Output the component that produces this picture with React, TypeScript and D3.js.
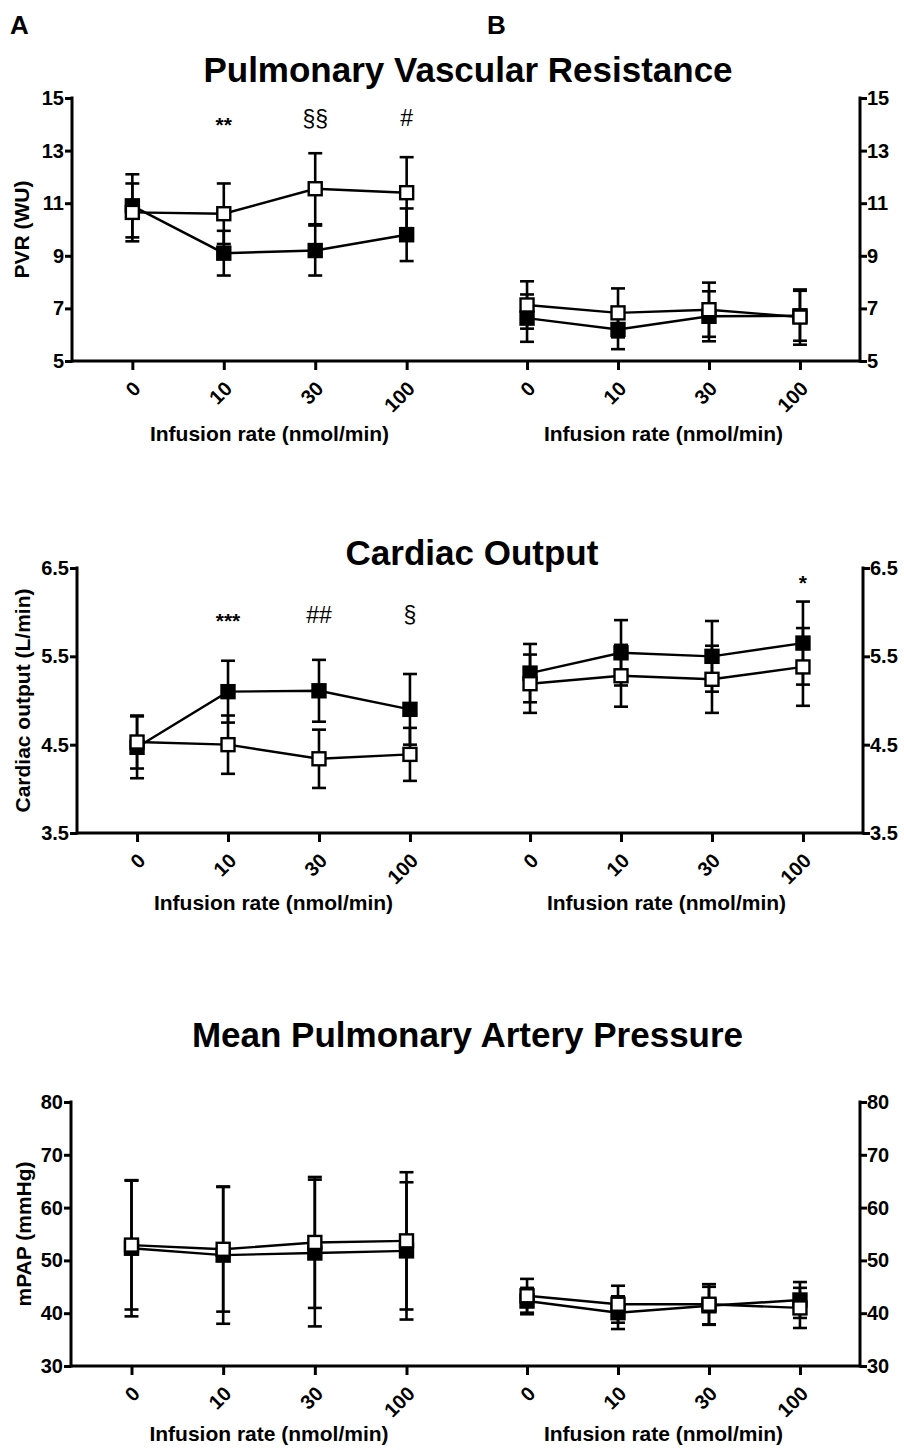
import React, { useEffect, useRef } from 'react';
import * as d3 from 'd3';

// infusion rates (nmol/min)
const rates = ['0', '10', '30', '100'];

// Pulmonary vascular resistance (WU)
const pvrTicks = [5, 7, 9, 11, 13, 15];
const pvrAFilled = [10.9, 9.1, 9.2, 9.8];
const pvrAFilledSd = [1.2, 0.85, 0.95, 1.0];
const pvrAOpen = [10.65, 10.6, 11.55, 11.4];
const pvrAOpenSd = [1.1, 1.15, 1.35, 1.35];
const pvrBFilled = [6.63, 6.2, 6.7, 6.72];
const pvrBFilledSd = [0.9, 0.75, 0.95, 0.95];
const pvrBOpen = [7.13, 6.83, 6.95, 6.67];
const pvrBOpenSd = [0.9, 0.93, 1.03, 1.05];

// Cardiac output (L/min)
const coTicks = [3.5, 4.5, 5.5, 6.5];
const coAFilled = [4.47, 5.1, 5.11, 4.9];
const coAFilledSd = [0.35, 0.35, 0.35, 0.4];
const coAOpen = [4.53, 4.5, 4.34, 4.39];
const coAOpenSd = [0.3, 0.33, 0.33, 0.3];
const coBFilled = [5.31, 5.54, 5.5, 5.65];
const coBFilledSd = [0.33, 0.37, 0.4, 0.47];
const coBOpen = [5.19, 5.28, 5.24, 5.38];
const coBOpenSd = [0.33, 0.35, 0.38, 0.44];

// Mean pulmonary artery pressure (mmHg)
const papTicks = [30, 40, 50, 60, 70, 80];
const papAFilled = [52.3, 51, 51.4, 51.8];
const papAFilledSd = [12.9, 13, 13.9, 13];
const papAOpen = [52.9, 52.1, 53.4, 53.7];
const papAOpenSd = [12.2, 11.8, 12.4, 13];
const papBFilled = [42.3, 40.1, 41.4, 42.5];
const papBFilledSd = [2.5, 3.1, 3.6, 3.4];
const papBOpen = [43.3, 41.7, 41.7, 41];
const papBOpenSd = [3.2, 3.5, 3.8, 3.8];

// significance marks: [side, rate index, label, level]
const pvrNotes = [['A', 1, '**', 14.2], ['A', 2, '§§', 14.2], ['A', 3, '#', 14.25]];
const coNotes = [['A', 1, '***', 5.97], ['A', 2, '##', 5.97], ['A', 3, '§', 5.97], ['B', 3, '*', 6.4]];
const papNotes = [];

const FONT = '"Liberation Sans", Arial, Helvetica, sans-serif';

const panels = [
  {
    title: 'Pulmonary Vascular Resistance', titleY: 82, ylabel: 'PVR (WU)', ticks: pvrTicks, fmt: d3.format('d'),
    top: 98, bottom: 361, left: 72, right: 860, split: 467, xlabelY: 441, ylabelX: 29,
    A: [pvrAFilled, pvrAFilledSd, pvrAOpen, pvrAOpenSd], B: [pvrBFilled, pvrBFilledSd, pvrBOpen, pvrBOpenSd], notes: pvrNotes,
  },
  {
    title: 'Cardiac Output', titleY: 565, ylabel: 'Cardiac output (L/min)', ticks: coTicks, fmt: d3.format('.1f'),
    top: 568, bottom: 833, left: 77, right: 863, split: 470, xlabelY: 910, ylabelX: 30,
    A: [coAFilled, coAFilledSd, coAOpen, coAOpenSd], B: [coBFilled, coBFilledSd, coBOpen, coBOpenSd], notes: coNotes,
  },
  {
    title: 'Mean Pulmonary Artery Pressure', titleY: 1047, ylabel: 'mPAP (mmHg)', ticks: papTicks, fmt: d3.format('d'),
    top: 1102, bottom: 1366, left: 71, right: 860, split: 467, xlabelY: 1441, ylabelX: 31,
    A: [papAFilled, papAFilledSd, papAOpen, papAOpenSd], B: [papBFilled, papBFilledSd, papBOpen, papBOpenSd], notes: papNotes,
  },
];

const App = () => {
  const svgRef = useRef(null);

  useEffect(() => {
    const svg = d3.select(svgRef.current);
    svg.selectAll('*').remove();
    svg.attr('font-family', FONT);

    svg.append('text').attr('x', 10).attr('y', 34).attr('font-size', 26).attr('font-weight', 'bold').text('A');
    svg.append('text').attr('x', 487).attr('y', 34).attr('font-size', 26).attr('font-weight', 'bold').text('B');

    panels.forEach(p => {
      const g = svg.append('g');
      const y = d3.scaleLinear().domain(d3.extent(p.ticks)).range([p.bottom, p.top]);
      const xs = {
        A: d3.scalePoint().domain(rates).range([p.left, p.split]).padding(0.66),
        B: d3.scalePoint().domain(rates).range([p.split, p.right]).padding(0.66),
      };

      g.append('text')
        .attr('x', (p.left + p.right) / 2 + 2).attr('y', p.titleY)
        .attr('text-anchor', 'middle').attr('font-size', 35).attr('font-weight', 'bold')
        .text(p.title);

      // y axes
      const yl = g.append('g').attr('transform', `translate(${p.left},0)`)
        .call(d3.axisLeft(y).tickValues(p.ticks).tickFormat(p.fmt).tickSize(7).tickPadding(1));
      const yr = g.append('g').attr('transform', `translate(${p.right},0)`)
        .call(d3.axisRight(y).tickValues(p.ticks).tickFormat(p.fmt).tickSize(7).tickPadding(0));
      [yl, yr].forEach(ax => {
        ax.select('.domain').remove();
        ax.selectAll('line').attr('stroke', '#000').attr('stroke-width', 3);
        ax.selectAll('text').attr('font-size', 20).attr('font-weight', 'bold').attr('font-family', FONT).attr('fill', '#000');
      });
      [p.left, p.right].forEach(x => {
        g.append('line').attr('x1', x).attr('x2', x).attr('y1', p.top - 1.5).attr('y2', p.bottom + 1.5)
          .attr('stroke', '#000').attr('stroke-width', 3);
      });

      g.append('text')
        .attr('transform', `translate(${p.ylabelX},${(p.top + p.bottom) / 2}) rotate(-90)`)
        .attr('text-anchor', 'middle').attr('font-size', 21).attr('font-weight', 'bold')
        .text(p.ylabel);

      ['A', 'B'].forEach(side => {
        const x = xs[side];
        const [r0, r1] = x.range();
        const [fm, fsd, om, osd] = p[side];

        // x axis
        const xa = g.append('g').attr('transform', `translate(0,${p.bottom})`)
          .call(d3.axisBottom(x).tickSize(9).tickFormat(d => d));
        xa.select('.domain').remove();
        xa.selectAll('line').attr('stroke', '#000').attr('stroke-width', 3);
        xa.selectAll('text')
          .attr('font-size', 20).attr('font-weight', 'bold').attr('font-family', FONT).attr('fill', '#000')
          .attr('text-anchor', 'end').attr('dy', null).attr('y', 0)
          .attr('transform', 'translate(9,29) rotate(-45)');
        g.append('line').attr('x1', r0).attr('x2', r1).attr('y1', p.bottom).attr('y2', p.bottom)
          .attr('stroke', '#000').attr('stroke-width', 3.2);

        g.append('text')
          .attr('x', (r0 + r1) / 2).attr('y', p.xlabelY)
          .attr('text-anchor', 'middle').attr('font-size', 21).attr('font-weight', 'bold')
          .text('Infusion rate (nmol/min)');

        const series = [
          { m: fm, sd: fsd, fill: '#000' },
          { m: om, sd: osd, fill: '#fff' },
        ];

        // error bars
        series.forEach(s => {
          const eb = g.append('g').attr('stroke', '#000').attr('stroke-width', 2.6);
          rates.forEach((r, i) => {
            const cx = x(r);
            const hi = y(s.m[i] + s.sd[i]);
            const lo = y(s.m[i] - s.sd[i]);
            eb.append('line').attr('x1', cx).attr('x2', cx).attr('y1', hi).attr('y2', lo);
            eb.append('line').attr('x1', cx - 7).attr('x2', cx + 7).attr('y1', hi).attr('y2', hi);
            eb.append('line').attr('x1', cx - 7).attr('x2', cx + 7).attr('y1', lo).attr('y2', lo);
          });
        });

        const line = d3.line().x((d, i) => x(rates[i])).y(d => y(d));
        series.forEach(s => {
          g.append('path').datum(s.m).attr('d', line)
            .attr('fill', 'none').attr('stroke', '#000').attr('stroke-width', 2.4);
        });
        series.forEach(s => {
          g.selectAll(null).data(s.m).enter().append('rect')
            .attr('x', (d, i) => x(rates[i]) - 6.5).attr('y', d => y(d) - 6.5)
            .attr('width', 13).attr('height', 13)
            .attr('fill', s.fill).attr('stroke', '#000').attr('stroke-width', 2.4);
        });

        p.notes.filter(n => n[0] === side).forEach(n => {
          const star = n[2].includes('*');
          g.append('text')
            .attr('x', x(rates[n[1]])).attr('y', y(n[3]))
            .attr('text-anchor', 'middle').attr('dominant-baseline', 'central')
            .attr('font-size', star ? 21 : 23)
            .attr('font-weight', star ? 'bold' : 'normal')
            .attr('dy', star ? '0.25em' : 0)
            .text(n[2]);
        });
      });
    });
  }, []);

  return (
    <svg ref={svgRef} width="904" height="1450"
      style={{ position: 'absolute', left: 0, top: 0, background: '#fff' }} />
  );
};

export default App;
